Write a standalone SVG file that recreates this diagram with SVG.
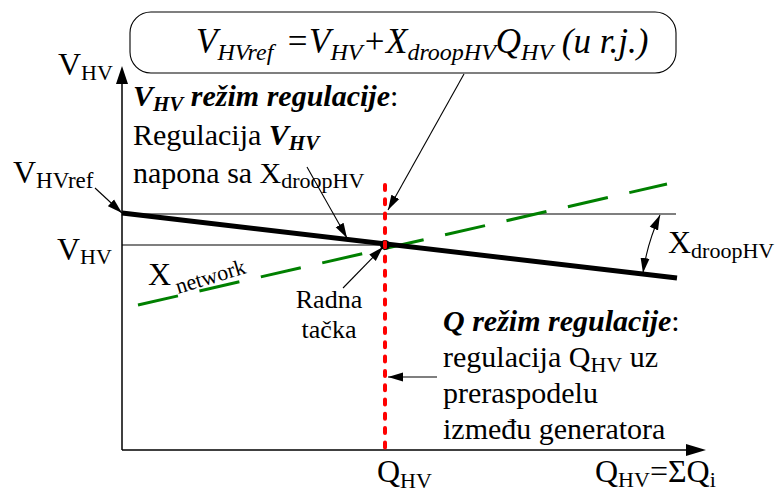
<svg xmlns="http://www.w3.org/2000/svg" width="776" height="497" viewBox="0 0 776 497">
<defs>
<style>
text{font-family:"Liberation Serif","Times New Roman",serif;fill:#000}
.b{font-size:30px}
.bi{font-weight:bold;font-style:italic}
.it{font-style:italic}
.thin{stroke:#000;stroke-width:1.1;fill:none}
</style>
<marker id="ah" markerUnits="userSpaceOnUse" markerWidth="16" markerHeight="10" refX="15" refY="5" orient="auto">
<path d="M0,0.5 L15,5 L0,9.5 z" fill="#000"/>
</marker>
<marker id="ahs" markerUnits="userSpaceOnUse" markerWidth="16" markerHeight="10" refX="15" refY="5" orient="auto-start-reverse">
<path d="M0,0.5 L15,5 L0,9.5 z" fill="#000"/>
</marker>
</defs>
<rect width="776" height="497" fill="#fff"/>

<g id="axes">
<path d="M122,450 V70" stroke="#000" stroke-width="1.5" fill="none"/>
<path d="M122,66 L116,84 L128,84 z" fill="#000"/>
<path d="M122,450 H690" stroke="#000" stroke-width="1.5" fill="none"/>
<path d="M706,450 L686,444 L686,456 z" fill="#000"/>
</g>

<g id="ref-lines">
<path d="M122,214 H676" class="thin"/>
<path d="M122,245 H385" class="thin"/>
</g>

<g id="network-line">
<path d="M138,305 L667,184" stroke="#008000" stroke-width="3" stroke-dasharray="41 22" fill="none"/>
</g>

<g id="droop-line">
<path d="M122,213 L677,278" stroke="#000" stroke-width="5" fill="none"/>
</g>

<g id="operating-point">
<circle cx="385" cy="245" r="5" fill="#000"/>
<path d="M385,185 V448" stroke="#ff0000" stroke-width="4" stroke-linecap="round" stroke-dasharray="5 9.3" fill="none"/>
</g>

<g id="formula-box">
<rect x="130" y="12" width="546" height="61" rx="21" ry="21" fill="#fff" stroke="#000" stroke-width="1.1"/>
<text class="it" x="196" y="53" font-size="35">V<tspan font-size="24" dy="7">HVref</tspan><tspan dx="12" dy="-7">=V</tspan><tspan font-size="24" dy="7">HV</tspan><tspan dy="-7">+X</tspan><tspan font-size="24" dy="7">droopHV</tspan><tspan dy="-7">Q</tspan><tspan font-size="24" dy="7">HV</tspan><tspan dy="-7"> (u r.j.)</tspan></text>
</g>

<g id="label-vhv-axis">
<text x="58" y="75" font-size="32">V<tspan font-size="22" dy="5">HV</tspan></text>
</g>
<g id="label-vhvref">
<text x="13" y="183" font-size="32">V<tspan font-size="23" dy="5">HVref</tspan></text>
</g>
<g id="label-vhv">
<text x="57" y="260" font-size="32">V<tspan font-size="22" dy="4">HV</tspan></text>
</g>

<g id="label-vhv-mode">
<text class="b" x="133" y="106"><tspan class="bi">V</tspan><tspan class="bi" font-size="21" dy="5">HV</tspan><tspan class="bi" dy="-5"> režim regulacije</tspan>:</text>
<text class="b" x="133" y="145">Regulacija <tspan class="bi">V</tspan><tspan class="bi" font-size="21" dy="5">HV</tspan></text>
<text class="b" x="133" y="183">napona sa X<tspan font-size="22" dy="5">droopHV</tspan></text>
</g>

<g id="label-xnetwork">
<text x="148" y="285" font-size="32">X</text>
<text x="178" y="294" font-size="22" transform="rotate(-17 178 294)">network</text>
</g>

<g id="label-radna">
<text x="329" y="308" font-size="26" text-anchor="middle">Radna</text>
<text x="329" y="338" font-size="26" text-anchor="middle">tačka</text>
</g>

<g id="label-xdroop">
<text x="668" y="253" font-size="32">X<tspan font-size="22" dy="5">droopHV</tspan></text>
</g>

<g id="label-q-mode">
<text class="b" x="443" y="331"><tspan class="bi">Q režim regulacije</tspan>:</text>
<text class="b" x="443" y="367">regulacija Q<tspan font-size="22" dy="5">HV</tspan><tspan dy="-5"> uz</tspan></text>
<text class="b" x="443" y="403">preraspodelu</text>
<text class="b" x="443" y="439">između generatora</text>
</g>

<g id="label-qhv">
<text x="377" y="482" font-size="32">Q<tspan font-size="22" dy="6">HV</tspan></text>
</g>
<g id="label-qaxis">
<text x="595" y="482" font-size="32">Q<tspan font-size="22" dy="5">HV</tspan><tspan dy="-5">=ΣQ</tspan><tspan font-size="22" dy="5">i</tspan></text>
</g>

<g id="connectors">
<path d="M464,74 L388,210" class="thin" marker-end="url(#ah)"/>
<path d="M95,188 L122,213" class="thin" marker-end="url(#ah)"/>
<path d="M307,167 L347,238" class="thin" marker-end="url(#ah)"/>
<path d="M343,288 L383,247" class="thin" marker-end="url(#ah)"/>
<path d="M437,377 L388,377" class="thin" marker-end="url(#ah)"/>
<path d="M660,215 Q647,244 643,273" class="thin" marker-start="url(#ahs)" marker-end="url(#ah)"/>
</g>
</svg>
